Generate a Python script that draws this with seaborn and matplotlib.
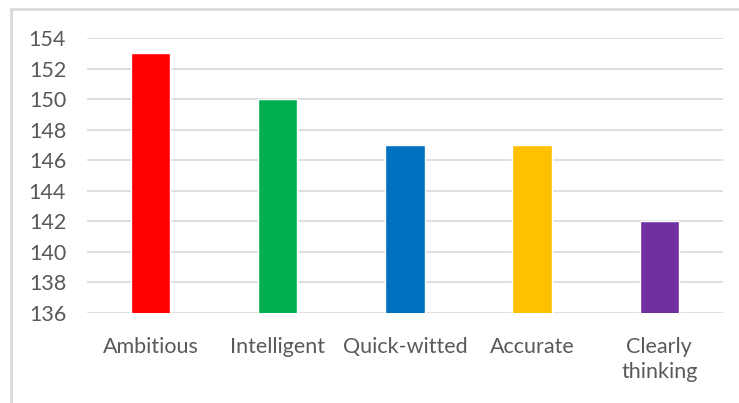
import matplotlib.pyplot as plt
import pandas as pd
import seaborn as sns
from matplotlib.patches import Rectangle

categories = ["Ambitious", "Intelligent", "Quick-witted", "Accurate", "Clearly\nthinking"]
values = [153, 150, 147, 147, 142]
colors = ["#FF0000", "#00B050", "#0070C0", "#FFC000", "#7030A0"]

df = pd.DataFrame({"trait": categories, "score": values})

sns.set_style("white")
plt.rcParams["font.family"] = ["Lato", "DejaVu Sans"]

fig = plt.figure(figsize=(7.39, 4.03), dpi=100)
ax = fig.add_axes([0.1177, 0.2233, 0.8606, 0.6824])

sns.barplot(data=df, x="trait", y="score", hue="trait", palette=colors,
            width=0.31, legend=False, ax=ax, saturation=1)

ax.set_ylim(136, 154)
ax.set_yticks(range(136, 155, 2))
ax.yaxis.grid(True, color="#D9D9D9", linewidth=1.2)
ax.set_axisbelow(True)
for s in ax.spines.values():
    s.set_visible(False)
ax.set_xlabel("")
ax.set_ylabel("")
ax.tick_params(axis="both", length=0, colors="#595959", labelsize=15.5)
ax.tick_params(axis="x", pad=17)
ax.tick_params(axis="y", pad=15)
for lbl in ax.get_xticklabels():
    lbl.set_linespacing(1.35)

# chart outline
fig.patches.append(Rectangle((11 / 739, -0.1), 2, 1.1 - 9 / 403, transform=fig.transFigure,
                             fill=False, edgecolor="#D9D9D9", linewidth=2))

fig.savefig("out.png", dpi=100)
